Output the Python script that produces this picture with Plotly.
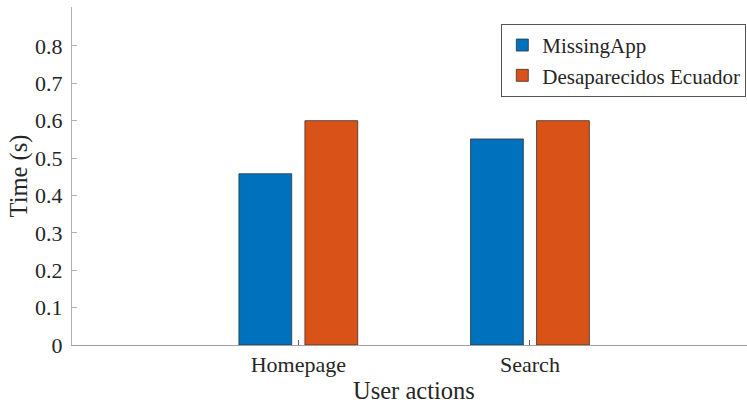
import plotly.graph_objects as go

# Response times per user action
categories = ["Homepage", "Search"]
missingapp = [0.458, 0.551]
desaparecidos = [0.600, 0.600]
series_names = ["MissingApp", "Desaparecidos Ecuador"]
y_ticks = [0, 0.1, 0.2, 0.3, 0.4, 0.5, 0.6, 0.7, 0.8]

positions = list(range(1, len(categories) + 1))
FONT = "Liberation Serif, Times New Roman, serif"
TEXT = "#262626"

fig = go.Figure()
fig.add_trace(go.Bar(
    x=positions, y=missingapp, name=series_names[0],
    marker=dict(color="#0072BD", line=dict(color="#2a3440", width=0.8)),
))
fig.add_trace(go.Bar(
    x=positions, y=desaparecidos, name=series_names[1],
    marker=dict(color="#D95319", line=dict(color="#403028", width=0.8)),
))

x_range = [0.023, 2.937]

fig.update_layout(
    width=747, height=407,
    margin=dict(l=72, r=0, t=7, b=62),
    paper_bgcolor="white", plot_bgcolor="white",
    barmode="group", bargap=0.43, bargroupgap=0.2,
    font=dict(family=FONT, color=TEXT, size=22),
    showlegend=True,
    legend=dict(
        x=0.999, y=0.95, xanchor="right", yanchor="top",
        bgcolor="white", bordercolor="#555555", borderwidth=1,
        font=dict(family=FONT, size=21, color=TEXT),
        itemwidth=30, tracegroupgap=0,
    ),
    xaxis=dict(
        range=x_range, tickvals=positions, ticktext=categories,
        showline=True, linecolor="#a0a0a0", linewidth=1,
        ticks="inside", ticklen=5, tickcolor="#606060",
        showgrid=False, zeroline=False,
        tickfont=dict(family=FONT, size=22, color=TEXT),
    ),
    xaxis2=dict(
        range=x_range, overlaying="x", side="top", anchor="y",
        tickvals=positions, showticklabels=False,
        showline=True, linecolor="#dcdcdc", linewidth=1,
        ticks="inside", ticklen=5, tickcolor="#606060",
        showgrid=False, zeroline=False,
    ),
    yaxis=dict(
        range=[0, 0.904], tickvals=y_ticks,
        ticktext=["0" if v == 0 else f"{v:.1f}" for v in y_ticks],
        showline=True, linecolor="#b0b0b0", linewidth=1,
        ticks="inside", ticklen=5, tickcolor="#b0b0b0",
        showgrid=False, zeroline=False,
        tickfont=dict(family=FONT, size=22, color=TEXT),
        ticklabelstandoff=4,
        title=dict(text="Time (s)", font=dict(family=FONT, size=24.5, color=TEXT), standoff=0),
    ),
)

# x-axis title centred on the full category span
fig.add_annotation(
    text="User actions", xref="x", yref="paper",
    x=(positions[0] + positions[-1]) / 2, y=0, yanchor="top", yshift=-30,
    showarrow=False, font=dict(family=FONT, size=24.5, color=TEXT),
)

fig.write_html("out.html")
